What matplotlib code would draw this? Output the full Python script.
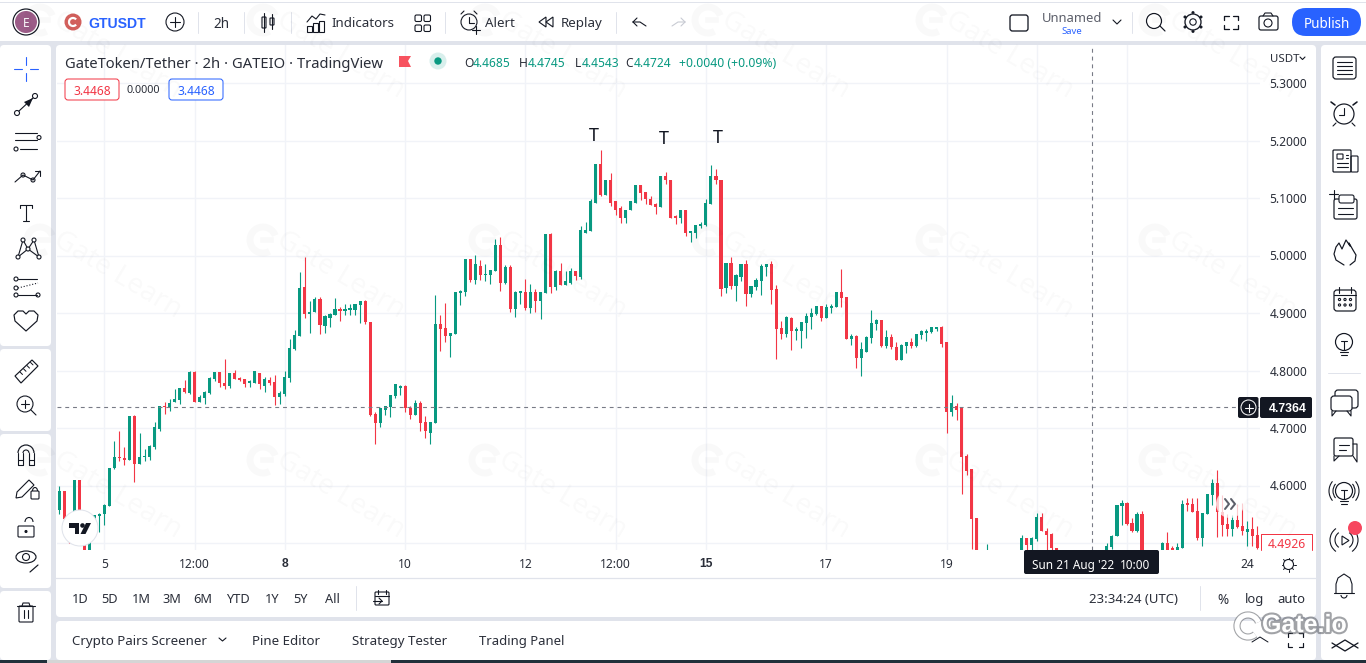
import matplotlib
matplotlib.use('Agg')
import matplotlib.pyplot as plt
import matplotlib.patheffects as pe
from matplotlib.patches import FancyBboxPatch, Circle, Rectangle, Polygon, Arc, Ellipse

plt.rcParams['font.family'] = ['Noto Sans', 'DejaVu Sans']
BOLD_FONT = ['Liberation Sans', 'DejaVu Sans']

# ---------- chart data ----------
opens = [
 4.558,4.590,4.540,4.545,4.609,4.520,4.460,4.519,4.547,4.550,
 4.564,4.630,4.650,4.648,4.645,4.721,4.638,4.649,4.649,4.667,
 4.698,4.739,4.736,4.745,4.749,4.769,4.761,4.797,4.745,4.753,
 4.761,4.785,4.798,4.779,4.773,4.796,4.787,4.785,4.778,4.779,
 4.796,4.773,4.784,4.780,4.754,4.760,4.787,4.837,4.860,4.945,
 4.898,4.902,4.924,4.877,4.891,4.897,4.907,4.903,4.905,4.905,
 4.914,4.921,4.884,4.725,4.709,4.732,4.737,4.756,4.770,4.773,
 4.735,4.723,4.744,4.711,4.692,4.708,4.881,4.874,4.860,4.864,
 4.935,4.936,4.994,4.957,4.982,4.966,4.966,4.973,5.018,4.952,
 4.980,4.907,4.935,4.936,4.909,4.936,4.921,4.935,5.037,4.945,
 4.973,4.949,4.952,4.973,4.962,5.040,5.042,5.092,5.160,5.105,
 5.131,5.094,5.082,5.066,5.079,5.092,5.122,5.110,5.099,5.089,
 5.084,5.139,5.132,5.068,5.065,5.079,5.039,5.040,5.051,5.053,
 5.089,5.138,5.131,4.943,4.987,4.947,4.962,4.985,4.933,4.945,
 4.956,4.980,4.985,4.942,4.874,4.864,4.891,4.869,4.869,4.883,
 4.893,4.898,4.912,4.891,4.909,4.910,4.936,4.928,4.855,4.860,
 4.822,4.832,4.857,4.881,4.888,4.843,4.858,4.841,4.819,4.843,
 4.850,4.843,4.862,4.865,4.867,4.872,4.876,4.850,4.727,4.739,
 4.734,4.652,4.628,4.543,4.460,4.430,4.460,4.450,4.440,4.455,
 4.445,4.450,4.470,4.509,4.497,4.507,4.545,4.521,4.516,4.491,
 4.470,4.460,4.450,4.440,4.445,4.450,4.445,4.455,4.460,4.470,
 4.493,4.512,4.564,4.570,4.535,4.521,4.550,4.450,4.455,4.465,
 4.470,4.500,4.491,4.470,4.491,4.569,4.568,4.556,4.509,4.550,
 4.583,4.604,4.554,4.533,4.524,4.540,4.530,4.519,4.524,4.514]
highs = [
 4.600,4.591,4.545,4.610,4.610,4.530,4.510,4.548,4.552,4.567,
 4.631,4.678,4.695,4.667,4.721,4.722,4.691,4.664,4.670,4.710,
 4.739,4.745,4.751,4.767,4.770,4.784,4.800,4.800,4.758,4.765,
 4.788,4.798,4.798,4.820,4.796,4.801,4.789,4.785,4.784,4.799,
 4.796,4.789,4.789,4.792,4.765,4.799,4.855,4.871,4.971,4.997,
 4.921,4.928,4.928,4.897,4.900,4.926,4.910,4.916,4.916,4.916,
 4.921,4.923,4.884,4.727,4.734,4.739,4.758,4.777,4.775,4.775,
 4.738,4.749,4.747,4.721,4.711,4.931,4.897,4.917,4.865,4.936,
 4.940,4.994,4.994,5.001,4.992,4.985,4.975,5.028,5.032,4.983,
 4.983,4.938,4.938,4.959,4.950,4.942,4.936,5.037,5.039,4.975,
 4.987,4.973,4.978,4.973,5.051,5.058,5.099,5.160,5.183,5.132,
 5.143,5.094,5.086,5.080,5.094,5.122,5.122,5.110,5.103,5.092,
 5.139,5.146,5.132,5.070,5.079,5.080,5.042,5.053,5.058,5.098,
 5.158,5.151,5.131,4.987,4.997,4.968,4.985,4.992,4.947,4.961,
 4.985,4.985,4.990,4.949,4.886,4.895,4.893,4.876,4.884,4.900,
 4.909,4.912,4.912,4.916,4.916,4.936,4.976,4.928,4.864,4.862,
 4.850,4.860,4.905,4.890,4.888,4.871,4.864,4.850,4.846,4.850,
 4.857,4.864,4.871,4.872,4.876,4.876,4.877,4.850,4.758,4.744,
 4.735,4.654,4.628,4.543,4.470,4.498,4.465,4.455,4.460,4.460,
 4.455,4.475,4.514,4.509,4.510,4.552,4.552,4.526,4.517,4.491,
 4.475,4.465,4.455,4.450,4.455,4.455,4.460,4.465,4.475,4.500,
 4.514,4.566,4.575,4.571,4.543,4.554,4.556,4.460,4.470,4.475,
 4.501,4.519,4.495,4.500,4.575,4.578,4.578,4.578,4.552,4.585,
 4.611,4.627,4.583,4.551,4.549,4.568,4.569,4.538,4.545,4.530]
lows = [
 4.550,4.540,4.500,4.540,4.500,4.440,4.450,4.518,4.519,4.532,
 4.564,4.629,4.642,4.636,4.645,4.606,4.638,4.642,4.645,4.664,
 4.694,4.725,4.730,4.745,4.742,4.761,4.760,4.745,4.745,4.742,
 4.760,4.782,4.771,4.768,4.769,4.786,4.781,4.772,4.771,4.779,
 4.768,4.762,4.775,4.740,4.742,4.755,4.780,4.836,4.860,4.891,
 4.865,4.902,4.864,4.865,4.876,4.897,4.886,4.897,4.897,4.897,
 4.883,4.881,4.721,4.673,4.701,4.723,4.720,4.753,4.758,4.728,
 4.716,4.723,4.694,4.683,4.673,4.708,4.834,4.850,4.824,4.864,
 4.914,4.929,4.954,4.950,4.957,4.956,4.950,4.973,4.938,4.950,
 4.902,4.893,4.916,4.905,4.900,4.902,4.890,4.935,4.935,4.940,
 4.949,4.949,4.950,4.957,4.959,5.040,5.042,5.092,5.103,5.105,
 5.086,5.070,5.056,5.056,5.079,5.091,5.096,5.089,5.087,5.072,
 5.084,5.124,5.066,5.054,5.056,5.034,5.023,5.030,5.047,5.051,
 5.089,5.125,4.929,4.935,4.942,4.921,4.956,4.912,4.928,4.940,
 4.931,4.964,4.916,4.820,4.855,4.858,4.836,4.853,4.839,4.857,
 4.872,4.897,4.886,4.891,4.900,4.910,4.910,4.855,4.845,4.805,
 4.791,4.832,4.848,4.871,4.841,4.839,4.838,4.819,4.819,4.831,
 4.839,4.841,4.855,4.851,4.865,4.869,4.841,4.692,4.721,4.714,
 4.586,4.619,4.489,4.450,4.420,4.410,4.440,4.430,4.440,4.435,
 4.440,4.460,4.460,4.480,4.480,4.503,4.521,4.488,4.488,4.460,
 4.450,4.440,4.430,4.435,4.440,4.435,4.440,4.450,4.455,4.465,
 4.490,4.512,4.531,4.531,4.519,4.519,4.440,4.445,4.450,4.460,
 4.465,4.465,4.475,4.465,4.491,4.556,4.554,4.505,4.495,4.550,
 4.566,4.510,4.512,4.512,4.512,4.526,4.514,4.495,4.495,4.489]
closes = [
 4.590,4.542,4.510,4.609,4.520,4.460,4.506,4.548,4.551,4.566,
 4.630,4.650,4.647,4.645,4.721,4.638,4.650,4.652,4.669,4.701,
 4.739,4.736,4.744,4.751,4.769,4.762,4.797,4.745,4.754,4.763,
 4.787,4.798,4.778,4.773,4.796,4.786,4.784,4.777,4.781,4.799,
 4.776,4.786,4.779,4.754,4.761,4.789,4.839,4.862,4.943,4.898,
 4.902,4.924,4.879,4.895,4.899,4.907,4.903,4.907,4.909,4.916,
 4.921,4.884,4.723,4.709,4.734,4.739,4.758,4.777,4.773,4.734,
 4.723,4.744,4.709,4.694,4.711,4.881,4.872,4.860,4.865,4.936,
 4.938,4.994,4.957,4.985,4.966,4.968,4.975,5.018,4.952,4.980,
 4.907,4.936,4.938,4.909,4.936,4.921,4.936,5.037,4.945,4.973,
 4.949,4.956,4.973,4.964,5.044,5.044,5.094,5.160,5.105,5.131,
 5.092,5.080,5.066,5.080,5.094,5.122,5.108,5.098,5.087,5.084,
 5.139,5.131,5.066,5.065,5.079,5.040,5.042,5.053,5.054,5.091,
 5.138,5.131,4.942,4.987,4.947,4.966,4.985,4.933,4.947,4.957,
 4.982,4.985,4.940,4.872,4.864,4.893,4.869,4.872,4.884,4.895,
 4.900,4.912,4.891,4.910,4.912,4.936,4.926,4.855,4.860,4.822,
 4.838,4.858,4.883,4.888,4.843,4.858,4.841,4.819,4.845,4.850,
 4.843,4.864,4.869,4.869,4.876,4.876,4.846,4.728,4.744,4.732,
 4.649,4.626,4.541,4.460,4.430,4.460,4.450,4.440,4.455,4.445,
 4.450,4.470,4.509,4.497,4.509,4.545,4.521,4.514,4.491,4.470,
 4.460,4.450,4.440,4.445,4.450,4.445,4.455,4.460,4.470,4.495,
 4.512,4.566,4.570,4.533,4.521,4.550,4.450,4.455,4.465,4.470,
 4.500,4.470,4.480,4.493,4.568,4.566,4.554,4.509,4.552,4.585,
 4.604,4.554,4.531,4.524,4.540,4.528,4.521,4.524,4.512,4.491]

price_ticks = [5.3, 5.2, 5.1, 5.0, 4.9, 4.8, 4.7, 4.6, 4.5]
price_labels = ['5.3000', '5.2000', '5.1000', '5.0000', '4.9000', '4.8000', '4.7000', '4.6000', '']
time_tick_idx = [9, 27, 45, 69, 93, 111, 129, 153, 177, 237]
time_tick_labels = ['5', '12:00', '8', '10', '12', '12:00', '15', '17', '19', '24']
time_grid_idx = [9, 27, 45, 69, 93, 111, 129, 153, 177, 195, 213, 237]
bold_time_labels = ['8', '15']
cross_price = 4.7364
cross_idx = 206

UP, DOWN = '#089981', '#F23645'
INK, GAP, GRID, BLUE = '#131722', '#E0E3EB', '#F1F3F8', '#2962FF'
TXT = '#2A2E39'

W, H = 1366, 663
fig = plt.figure(figsize=(W / 100, H / 100), dpi=100, facecolor=GAP)


def px_axes(z):
    a = fig.add_axes([0, 0, 1, 1], zorder=z)
    a.set_xlim(0, W)
    a.set_ylim(H, 0)
    a.axis('off')
    return a


bg = px_axes(0)
ov = px_axes(5)


def panel(a, x0, y0, x1, y1, fc='white', r=4, ec='none', lw=0, z=1):
    p = FancyBboxPatch((x0, y0), x1 - x0, y1 - y0, boxstyle=f'round,pad=0,rounding_size={r}',
                       fc=fc, ec=ec, lw=lw, zorder=z)
    a.add_patch(p)
    return p


def T(x, y, s, px=13, c=TXT, ha='left', w='normal', a=None, z=10, **kw):
    return (a or ov).text(x, y, s, fontsize=px * 0.72, color=c, ha=ha, va='center_baseline',
                          fontweight=w, zorder=z, **kw)


def L(xs, ys, c=INK, lw=1.1, z=10, **kw):
    ov.plot(xs, ys, color=c, lw=lw * 0.72, zorder=z, solid_capstyle='round', **kw)


def C(x, y, r, ec=INK, fc='none', lw=1.1, z=10):
    ov.add_patch(Circle((x, y), r, ec=ec, fc=fc, lw=lw * 0.72, zorder=z))


def R(x0, y0, x1, y1, ec=INK, fc='none', lw=1.1, r=2, z=10):
    panel(ov, x0, y0, x1, y1, fc=fc, ec=ec, lw=lw * 0.72, r=r, z=z)


def A(x, y, rx, ry, t0, t1, c=INK, lw=1.1, z=10):
    ov.add_patch(Arc((x, y), 2 * rx, 2 * ry, theta1=t0, theta2=t1, ec=c, lw=lw * 0.72, zorder=z))


# ---------- panels ----------
bg.add_patch(Rectangle((0, 3), W, 38, fc='white', zorder=1))
bg.add_patch(Rectangle((0, 0), W, 2, fc='white', zorder=1))
panel(bg, 0, 45, 51, 346)
panel(bg, 0, 349, 51, 431)
panel(bg, 0, 434, 51, 588)
panel(bg, 0, 591, 51, 660)
panel(bg, 56, 45, 1316, 617)
panel(bg, 56, 621, 1316, 660)
panel(bg, 1321, 45, W + 6, 660)
bg.add_patch(Rectangle((0, 660), 47, 3, fc='#20303A', zorder=2))
bg.add_patch(Rectangle((47, 660), 344, 3, fc='#D5D5D5', zorder=2))
bg.add_patch(Rectangle((391, 660), W - 391, 3, fc='#20303A', zorder=2))
bg.plot([56, 1316], [578, 578], color=GAP, lw=0.9, zorder=2)

# ---------- candlestick chart ----------
X0, DX = 59.3, 5.0126
Y53, PPU = 83.0, 575.0
ax = fig.add_axes([57 / W, (H - 550) / H, (1260 - 57) / W, (550 - 45) / H], zorder=2)
ax.patch.set_alpha(0)
ax.set_xlim((57 - X0) / DX, (1260 - X0) / DX)
ax.set_ylim(5.3 - (550 - Y53) / PPU, 5.3 + (Y53 - 45) / PPU)
for s in ax.spines.values():
    s.set_visible(False)
ax.yaxis.tick_right()
ax.set_yticks(price_ticks, price_labels)
ax.set_xticks(time_tick_idx, time_tick_labels)
ax.tick_params(length=0, labelsize=12 * 0.72, labelcolor=TXT)
ax.tick_params(axis='y', pad=6.7)
ax.tick_params(axis='x', pad=5.5)
for lab in ax.get_xticklabels():
    if lab.get_text() in bold_time_labels:
        lab.set_fontweight('bold')
        lab.set_family(BOLD_FONT)
for p in price_ticks:
    ax.axhline(p, color=GRID, lw=1.0, zorder=0)
for i in time_grid_idx:
    ax.axvline(i, color=GRID, lw=1.0, zorder=0)
idx = list(range(len(opens)))
colors = [UP if c >= o else DOWN for o, c in zip(opens, closes)]
ax.vlines(idx, lows, highs, colors=colors, lw=0.8, zorder=3)
ax.bar(idx, [abs(c - o) for o, c in zip(opens, closes)], bottom=[min(o, c) for o, c in zip(opens, closes)],
       width=0.62, color=colors, lw=0, zorder=4)
dash = (0, (3.5, 3.5))
ax.axhline(cross_price, color='#787B86', lw=0.8, ls=dash, zorder=5)
ax.axvline(cross_idx, color='#787B86', lw=0.8, ls=dash, zorder=5)

# ---------- top bar ----------
C(26, 22, 13, ec=INK, fc='white', lw=1.2)
C(26, 22, 11, ec='none', fc='#9C5C88')
T(26, 22, 'E', 12, 'white', 'center')
C(73, 22, 8.5, ec='none', fc='#D2605C')
A(73, 22, 4, 4, 40, 320, 'white', 2.2)
T(88, 22, 'GTUSDT', 14, BLUE, w='bold', family=BOLD_FONT)
C(175, 22, 9)
L([170, 180], [22, 22]); L([175, 175], [17, 27])
T(221, 22, '2h', 13.5, TXT, 'center')
for sx in (198, 244, 291, 445, 616, 1132):
    L([sx, sx], [12, 33], GAP, 1)
# candle icon
R(262, 17, 266, 28, r=0.5); L([264, 264], [13, 32])
R(270, 18, 274, 25, r=0.5); L([272, 272], [14, 29])
# indicators icon
L([307, 312, 316, 320, 325], [22, 16, 19, 14, 15])
for bx, by in ((307, 26), (313, 23), (319, 21)):
    ov.add_patch(Rectangle((bx, by), 5, 32 - by, fc='none', ec=INK, lw=0.8, zorder=10))
T(331, 22, 'Indicators', 13.3)
for bx, by in ((415, 15), (424, 15), (415, 25), (424, 25)):
    R(bx, by, bx + 6.5, by + 6.5, r=1.5)
# alert
C(469, 22, 8); L([469, 469, 474], [17, 23, 23]); L([461, 464], [14, 11]); L([474, 477], [11, 14])
L([472, 480], [30, 30]); L([476, 476], [26, 34])
T(485, 22, 'Alert', 13.3)
ov.add_patch(Polygon([(546, 17), (539, 22), (546, 27)], fc='none', ec=INK, lw=0.8, zorder=10))
ov.add_patch(Polygon([(553, 17), (546, 22), (553, 27)], fc='none', ec=INK, lw=0.8, zorder=10))
T(561, 22, 'Replay', 13.3)
L([633, 640, 646], [22, 22, 26]); L([633, 637], [22, 18]); L([633, 637], [22, 26])
L([685, 678, 672], [22, 22, 26], '#C8CBD3'); L([685, 681], [22, 18], '#C8CBD3'); L([685, 681], [22, 26], '#C8CBD3')
R(1010, 15, 1028, 31, r=2.5, lw=1.3)
T(1072, 17, 'Unnamed', 13, '#5D606B', 'center')
T(1072, 30, 'Save', 9.5, BLUE, 'center')
L([1113, 1117, 1121], [20, 24, 20])
C(1154, 21, 7.5, lw=1.2); L([1160, 1165], [26, 31], lw=1.2)
# gear
C(1193, 22, 3.2, lw=1.1); C(1193, 22, 8, lw=1.3)
for ang_dx, ang_dy in ((0, -9.5), (0, 9.5), (-8, -5), (8, -5), (-8, 5), (8, 5)):
    C(1193 + ang_dx, 22 + ang_dy, 1.2, fc=INK, lw=0.5)
for (cx, cy, sx, sy) in ((1224, 16, 1, 1), (1238, 16, -1, 1), (1224, 29, 1, -1), (1238, 29, -1, -1)):
    L([cx, cx, cx + 5 * sx], [cy + 4 * sy, cy, cy], lw=1.3)
R(1259, 16, 1278, 30, r=2, lw=1.2); C(1268, 23, 4); L([1263, 1265, 1271, 1273], [16, 13, 13, 16])
panel(ov, 1292, 8, 1361, 36, fc=BLUE, r=14, z=9)
T(1327, 22, 'Publish', 13.5, 'white', 'center', w='medium')

# ---------- chart legend ----------
T(65, 62, 'GateToken/Tether · 2h · GATEIO · TradingView', 14.8, TXT)
ov.add_patch(Polygon([(399, 56), (411, 56), (408, 61), (411, 67), (399, 67)], fc='#F7525F', ec='none', zorder=10))
C(438, 61, 8.5, ec='none', fc='#D8EFEC')
C(438, 61, 3.7, ec='none', fc=UP)
for x, lab, val in ((464, 'O', '4.4685'), (519, 'H', '4.4745'), (575, 'L', '4.4543'), (625, 'C', '4.4724')):
    t = T(x, 62, lab, 12, TXT)
    T(x + (8.5 if lab in 'OHC' else 6.5), 62, val, 12, UP)
T(679, 62, '+0.0040 (+0.09%)', 12.2, UP)
R(65, 79, 119, 100, ec=DOWN, fc='white', lw=1, r=3)
T(92, 90, '3.4468', 12, DOWN, 'center')
T(143, 89, '0.0000', 10.8, TXT, 'center')
R(169, 79, 223, 100, ec=BLUE, fc='white', lw=1, r=3)
T(196, 90, '3.4468', 12, BLUE, 'center')

# T markers
for x, y in ((594, 134), (664, 137), (718, 136)):
    T(x, y, 'T', 18, INK, 'center')

# ---------- price scale extras ----------
T(1270, 58, 'USDT', 11.5, TXT)
L([1300, 1302.5, 1305], [57, 59.5, 57])
panel(ov, 1238, 397, 1258.5, 418, fc=INK, r=2, z=9)
C(1248.5, 407.5, 7.5, ec='white', lw=1); L([1244.5, 1252.5], [407.5, 407.5], 'white'); L([1248.5, 1248.5], [403.5, 411.5], 'white')
panel(ov, 1260, 397, 1312, 418, fc=INK, r=2, z=9)
T(1288, 407.5, '4.7364', 12.3, 'white', 'center', w='bold', family=BOLD_FONT)
ov.add_patch(Rectangle((1260, 534), 52, 16, fc='white', ec='none', zorder=9))
L([1261, 1261, 1312, 1312], [550, 534, 534, 550], DOWN, 1)
T(1287, 543, '4.4926', 12.3, DOWN, 'center')

# TV logo
C(80, 528, 18, ec='#E0E3EB', fc='white', lw=1)
ov.add_patch(Polygon([(69, 523), (79, 523), (79, 534), (74.5, 534), (74.5, 527.5), (69, 527.5)], fc=INK, zorder=11))
C(82.5, 525.5, 2.3, ec='none', fc=INK, z=11)
ov.add_patch(Polygon([(86, 523), (91, 523), (85.5, 534), (80.5, 534)], fc=INK, zorder=11))

# Scroll button
ov.add_patch(Circle((1230, 504), 14, fc='white', ec='none', alpha=0.75, zorder=10))
L([1225, 1229, 1225], [499, 504, 509], '#5D606B', 2)
L([1231, 1235, 1231], [499, 504, 509], '#5D606B', 2)

# Tooltip and time-axis extras
panel(ov, 1024, 550, 1159, 574, fc=INK, r=2, z=9)
T(1032, 564, "Sun 21 Aug '22", 11.8, 'white', w='medium')
T(1120, 564, '10:00', 11.8, 'white', w='medium')
C(1288.5, 564.5, 5)
for dx, dy in ((0, -7), (0, 7), (-7, 0), (7, 0), (-5, -5), (5, -5), (-5, 5), (5, 5)):
    L([1288.5 + dx * 0.8, 1288.5 + dx], [564.5 + dy * 0.8, 564.5 + dy], lw=1)

# ---------- range bar ----------
for x, s in ((80, '1D'), (110, '5D'), (141, '1M'), (172, '3M'), (203, '6M'), (238, 'YTD'), (272, '1Y'), (301, '5Y'), (332, 'All')):
    T(x, 598, s, 12.8, TXT, 'center')
for sx in (356, 1200):
    L([sx, sx], [586, 610], GAP, 1)
R(375, 592, 389, 605, r=1); L([378, 378], [590, 594]); L([386, 386], [590, 594]); L([375, 389], [595.5, 595.5])
L([373, 382], [601, 601]); L([379, 382, 379], [598, 601, 604])
T(1089, 598, '23:34:24 (UTC)', 13.2, TXT)
T(1223, 598, '%', 13.5, TXT, 'center')
T(1254, 598, 'log', 13, TXT, 'center')
T(1291, 598, 'auto', 13, TXT, 'center')

# ---------- bottom tabs ----------
T(72, 640, 'Crypto Pairs Screener', 13.3)
L([219, 222.5, 226], [638, 641, 638])
T(252, 640, 'Pine Editor', 13.3)
T(352, 640, 'Strategy Tester', 13.3)
T(479, 640, 'Trading Panel', 13.1)
L([1252, 1260, 1268], [642, 637, 642], lw=1)
for (cx, cy, sx, sy) in ((1288, 633, 1, 1), (1303, 633, -1, 1), (1288, 647, 1, -1), (1303, 647, -1, -1)):
    L([cx, cx, cx + 4 * sx], [cy + 4 * sy, cy, cy], lw=1.2)
L([1332, 1345, 1358], [648, 640, 648], lw=1.3)
L([1332, 1345, 1358], [643, 651, 643], lw=1.3)

# ---------- left toolbar icons ----------
cx = 26
L([14, 22], [69, 69], BLUE); L([30, 38], [69, 69], BLUE); L([26, 26], [57, 65], BLUE); L([26, 26], [73, 81], BLUE)
C(17, 113, 2.5); C(35, 96, 2.5); L([19, 33], [111, 98])
ov.add_patch(Polygon([(33, 98), (24, 102), (29, 107)], fc=INK, zorder=10))
L([15, 37], [133, 133]); L([15, 37], [140, 140]); L([20, 37], [149, 149]); C(39, 137.5, 2); C(16, 149, 2)
L([15, 23, 33, 40], [182, 175, 180, 171]); C(23, 175, 2); C(33, 180, 2); L([35, 40, 40], [171, 171, 176])
L([20, 32], [205, 205]); L([26, 26], [205, 221]); L([23, 29], [221, 221]); L([20, 20], [205, 208]); L([32, 32], [205, 208])
for (a1, b1, a2, b2) in ((18, 257, 23, 240), (23, 240, 28, 249), (28, 249, 34, 240), (34, 240, 39, 257), (18, 257, 28, 249), (28, 249, 39, 257)):
    L([a1, a2], [b1, b2])
for a1, b1 in ((18, 257), (23, 240), (28, 249), (34, 240), (39, 257)):
    C(a1, b1, 2, fc='white')
L([18, 37], [279, 279]); L([18, 37], [295, 295]); L([18, 38], [288, 283], ls=':')
for a1, b1 in ((16, 279), (16, 288), (16, 295), (38, 295)):
    C(a1, b1, 2)
# heart
ov.add_patch(Polygon([(26, 331), (15, 321), (14, 315), (18, 311), (23, 311), (26, 314), (29, 311), (34, 311), (38, 315), (37, 321)],
                     fc='none', ec=INK, lw=0.85, zorder=10, joinstyle='round'))
ov.add_patch(Polygon([(15, 376), (32, 360), (38, 366), (21, 383)], fc='none', ec=INK, lw=0.85, zorder=10))
for k in range(4):
    L([20 + k * 3.5, 22.5 + k * 3.5], [372 - k * 3.2, 374.5 - k * 3.2], lw=1)
C(25, 404, 8); L([21, 29], [404, 404]); L([25, 25], [400, 408]); L([31, 36], [410, 415])
A(26, 453, 8, 8, 180, 360, lw=1.2); A(26, 453, 3, 3, 180, 360); L([18, 18, 23, 23], [453, 465, 465, 453]); L([29, 29, 34, 34], [453, 465, 465, 453]); L([18, 23], [460, 460]); L([29, 34], [460, 460])
ov.add_patch(Polygon([(17, 492), (29, 480), (34, 485), (22, 497), (16, 498)], fc='none', ec=INK, lw=0.8, zorder=10))
R(31, 491, 39, 499, r=1); A(35, 491, 2.5, 3.5, 180, 360)
R(18, 526, 34, 537, r=1); A(29, 522, 4, 4.5, 180, 360); C(26, 531.5, 1, fc=INK)
ov.add_patch(Ellipse((26, 557), 20, 12, fc='none', ec=INK, lw=0.85, zorder=10)); C(26, 557, 3.5)
L([30, 38], [572, 565], lw=1.2)
L([17, 35], [606, 606]); L([22, 23, 29, 30], [606, 603, 603, 606]); R(19, 606, 33, 622, r=1); L([24, 24], [610, 618]); L([28, 28], [610, 618])

# ---------- right toolbar icons ----------
RX = 1344
R(1333, 57, 1356, 79, r=3, lw=1.2)
for yy in (62, 66, 70, 74):
    L([1337, 1352], [yy, yy])
C(RX, 114, 10, lw=1.2); L([RX, RX, RX - 5], [108, 115, 115]); L([1335, 1331], [105, 102], lw=1.6); L([1353, 1357], [105, 102], lw=1.6); L([1336, 1333], [123, 126]); L([1352, 1355], [123, 126])
R(1333, 150, 1351, 172, r=1, lw=1.2); R(1351, 156, 1358, 172, r=1); R(1337, 154, 1343, 159, r=0.5)
for yy in (163, 167):
    L([1337, 1348], [yy, yy])
L([1346, 1348], [155, 155]); L([1346, 1348], [158, 158])
R(1334, 199, 1357, 219, r=2, lw=1.2); R(1339, 195, 1354, 203, ec=INK, fc='white', r=2); L([1338, 1353], [208, 208]); L([1338, 1353], [214, 214])
L([1329, 1338], [194, 194]); L([1333.5, 1333.5], [190, 199])
xs = [1344, 1336, 1334, 1336, 1339, 1342, 1346, 1350, 1349, 1353, 1356, 1355, 1350]
ys = [265, 260, 254, 247, 243, 249, 240, 246, 243, 250, 255, 261, 265]
L(xs, ys, lw=1.2)
R(1334, 290, 1356, 311, r=3, lw=1.2); L([1339, 1339], [287, 293]); L([1351, 1351], [287, 293]); L([1334, 1356], [295, 295])
for ax_ in (1339.5, 1345, 1350.5):
    for ay_ in (299.5, 305):
        C(ax_, ay_, 1.1)


def bulb(x, y):
    C(x, y, 8.5, lw=1.2)
    L([x - 3, x + 3], [y - 1, y - 1]); L([x, x], [y - 1, y + 8])
    L([x - 4, x + 4], [y + 10, y + 10]); L([x - 3, x + 3], [y + 13, y + 13])


bulb(RX, 342)
L([1328, 1360], [373, 373], GAP, 1)
R(1335, 390, 1358, 408, r=3, lw=1.2)
panel(ov, 1331, 396, 1352, 411, fc='white', ec=INK, lw=0.85, r=3, z=11)
L([1332, 1332, 1336], [411, 416, 411], z=12); L([1351, 1351, 1347], [411, 416, 411], z=12)
R(1334, 438, 1353, 456, r=2, lw=1.2); L([1353, 1357, 1357, 1353], [444, 444, 462, 456]); L([1334, 1334, 1339], [456, 461, 456])
L([1339, 1349], [445, 445]); L([1339, 1346], [450, 450])
bulb(RX, 491)
for sgn in (-1, 1):
    A(RX, 491, 11, 11, 140 if sgn < 0 else -40, 220 if sgn < 0 else 40)
    A(RX, 491, 15, 15, 140 if sgn < 0 else -40, 220 if sgn < 0 else 40)
    A(RX, 540, 9, 9, 125 if sgn < 0 else -55, 235 if sgn < 0 else 55)
    A(RX, 540, 14, 14, 125 if sgn < 0 else -55, 235 if sgn < 0 else 55)
ov.add_patch(Polygon([(1342, 536), (1342, 545), (1349, 540.5)], fc='none', ec=INK, lw=0.8, zorder=10))
C(1355, 528, 7, ec='none', fc='#F7475F', z=12)
L([1336, 1336, 1338, 1344, 1350, 1352, 1352], [593, 584, 578, 574, 578, 584, 593])
L([1334, 1354], [593, 593]); A(RX, 595, 3, 3, 0, 180)

# ---------- Gate watermarks ----------
WM = dict(color='black', alpha=0.022)
for col in (40, 263, 485, 708, 932, 1155):
    for row in (20, 240, 460):
        ov.add_patch(Arc((col, row), 26, 26, theta1=60, theta2=340, ec='black', alpha=0.022, lw=5, zorder=20))
        ov.plot([col, col + 8], [row, row], color='black', alpha=0.022, lw=4, zorder=20)
        ov.text(col + 16, row - 2, 'Gate Learn', fontsize=28 * 0.72, rotation=-31, rotation_mode='anchor',
                ha='left', va='center', zorder=20, clip_on=True, **WM)

# Gate.io corner mark
sh = [pe.withStroke(linewidth=3, foreground='#55585F', alpha=0.55)]
ov.add_patch(Arc((1248, 626), 22, 22, theta1=50, theta2=340, ec='white', lw=3.6, zorder=21,
                 path_effects=[pe.Stroke(linewidth=5.2, foreground='#66696F', alpha=0.6), pe.Normal()]))
ov.text(1262, 625, 'Gate.io', fontsize=25 * 0.72, color='white', ha='left', va='center', zorder=21,
        fontweight='bold', family=BOLD_FONT, path_effects=sh)

fig.savefig('out.png', dpi=100, facecolor=GAP)
